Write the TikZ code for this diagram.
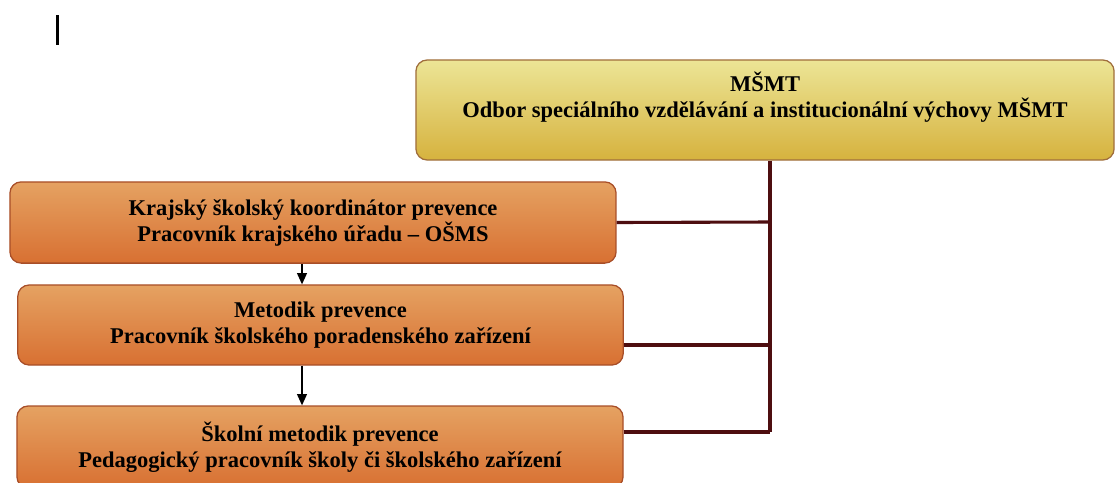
\documentclass[tikz,border=0pt]{standalone}
\usepackage{fontspec}
\setmainfont{Liberation Serif}
\usetikzlibrary{arrows.meta,positioning}
\definecolor{goldtop}{RGB}{236,229,150}
\definecolor{goldbot}{RGB}{214,178,62}
\definecolor{goldline}{RGB}{160,110,60}
\definecolor{orangetop}{RGB}{229,162,98}
\definecolor{orangebot}{RGB}{216,112,50}
\definecolor{orangeline}{RGB}{168,78,40}
\definecolor{trunkcol}{RGB}{78,14,16}

\begin{document}
\begin{tikzpicture}[x=0.025cm,y=-0.025cm]
\tikzstyle{every node}+=[font=\fontsize{16}{18.5}\selectfont\bfseries, align=center]
\tikzstyle{headbox}=[draw=goldline, line width=0.9pt, rounded corners=8pt, top color=goldtop, bottom color=goldbot, minimum width=17.45cm, minimum height=2.5cm]
\tikzstyle{rolebox}=[draw=orangeline, line width=0.9pt, rounded corners=8pt, top color=orangetop, bottom color=orangebot, inner sep=0pt]
\tikzstyle{trunk}=[trunkcol, line width=2.2pt]
\tikzstyle{down}=[black, line width=1pt, -{Triangle[width=7pt,length=8pt]}]
\useasboundingbox (0,0) rectangle (1116,482);
\fill [black] (56,15) rectangle (59,45);
\node [headbox] (msmt) at (765,110) {};
\node [below=0.2cm of msmt.north] (msmttext) {MŠMT\\Odbor speciálního vzdělávání a institucionální výchovy MŠMT};
\node [rolebox, minimum width=15.15cm, minimum height=2.03cm] (kraj) at (313,222.5) {Krajský školský koordinátor prevence\\Pracovník krajského úřadu – OŠMS};
\node [rolebox, minimum width=15.13cm, minimum height=2cm] (metodik) at (320.5,325) {Metodik prevence\\Pracovník školského poradenského zařízení};
\node [rolebox, minimum width=15.15cm, minimum height=2.05cm] (skolni) at (320,447) {Školní metodik prevence\\Pedagogický pracovník školy či školského zařízení};
\coordinate (jkraj) at (770,222);
\coordinate (jmetodik) at (770,345);
\coordinate (jskolni) at (770,432);
\coordinate (ax) at (302,0);
\draw [trunk] (msmt.south -| jskolni) -- (jskolni);
\draw [trunk] (kraj.east) -- (jkraj);
\draw [trunk] (jmetodik -| metodik.east) -- (jmetodik);
\draw [trunk] (jskolni -| skolni.east) -- (jskolni);
\draw [down] (kraj.south -| ax) -- (metodik.north -| ax);
\draw [down] (metodik.south -| ax) -- (skolni.north -| ax);
\end{tikzpicture}
\end{document}
